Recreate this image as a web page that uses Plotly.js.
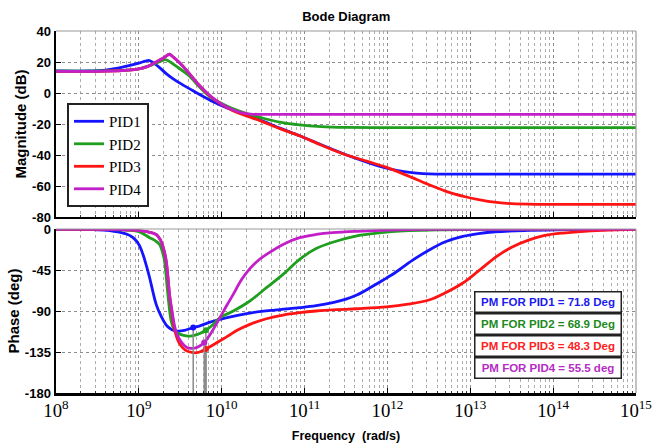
<!DOCTYPE html>
<html>
<head>
<meta charset="utf-8">
<script src="https://cdn.plot.ly/plotly-3.0.1.min.js"></script>
<style>html,body{margin:0;padding:0;background:#fff;}#plot{width:657px;height:446px;}</style>
</head>
<body>
<div id="plot"></div>
<script>
// ---- data (frequency given as log10 of rad/s) ----
const seriesNames = ["PID1", "PID2", "PID3", "PID4"];
const seriesColors = ["#1414ff", "#1f9e1f", "#ff1414", "#c21fc8"];

const magF1 = [8.0, 8.4, 8.6, 8.75, 8.88, 9.0, 9.08, 9.12, 9.17, 9.25, 9.33, 9.41, 9.5, 9.61, 9.75, 9.89, 10.05, 10.25, 10.49, 10.7, 10.94, 11.2, 11.46, 11.7, 11.9, 12.05, 12.2, 12.35, 12.5, 13.0, 15.0];
const magPID1 = [14.2, 14.2, 14.8, 16.0, 17.6, 19.3, 20.6, 21.1, 19.8, 16.4, 12.5, 9.3, 6.2, 2.8, -1.5, -5.5, -9.3, -13.3, -18.0, -22.6, -27.6, -33.4, -39.0, -43.7, -47.2, -49.3, -50.8, -51.7, -52.2, -52.4, -52.4];

const magF2 = [8.0, 8.5, 8.8, 9.0, 9.15, 9.25, 9.32, 9.38, 9.45, 9.61, 9.72, 9.85, 10.0, 10.13, 10.3, 10.5, 10.7, 10.94, 11.2, 11.5, 12.0, 15.0];
const magPID2 = [14.2, 14.2, 14.6, 15.6, 18.0, 20.2, 21.5, 20.0, 17.3, 11.0, 4.5, -2.0, -6.8, -10.0, -13.2, -16.3, -18.8, -20.6, -21.7, -22.2, -22.3, -22.3];

const magF3 = [8.0, 8.5, 8.8, 9.0, 9.1, 9.2, 9.3, 9.37, 9.42, 9.5, 9.61, 9.72, 9.85, 10.0, 10.13, 10.3, 10.46, 10.7, 10.94, 11.2, 11.46, 11.75, 11.99, 12.25, 12.47, 12.7, 12.95, 13.1, 13.27, 13.5, 13.8, 15.0];
const magPID3 = [14.0, 14.0, 14.4, 15.5, 17.0, 19.8, 22.7, 25.0, 23.0, 19.0, 12.5, 5.5, -1.5, -7.5, -11.2, -14.8, -17.8, -23.0, -27.6, -33.6, -39.2, -44.0, -48.0, -53.5, -58.5, -63.3, -67.1, -68.8, -70.3, -71.4, -71.8, -71.8];

const magF4 = [8.0, 8.5, 8.8, 9.0, 9.1, 9.2, 9.3, 9.37, 9.42, 9.5, 9.61, 9.72, 9.85, 10.0, 10.13, 10.25, 10.35, 10.45, 15.0];
const magPID4 = [14.0, 14.0, 14.4, 15.5, 17.0, 19.8, 22.7, 25.0, 23.0, 19.0, 12.5, 5.5, -1.3, -7.3, -10.8, -12.8, -13.6, -13.8, -13.8];

const phF1 = [8.0, 8.4, 8.7, 8.85, 8.93, 9.0, 9.05, 9.09, 9.13, 9.17, 9.21, 9.27, 9.34, 9.4, 9.46, 9.55, 9.656, 9.737, 9.85, 9.978, 10.15, 10.34, 10.64, 10.94, 11.14, 11.34, 11.5, 11.63, 11.8, 11.95, 12.1, 12.3, 12.51, 12.7, 12.91, 13.1, 13.3, 13.7, 14.2, 15.0];
const phPID1 = [0, -0.5, -2.5, -5.5, -9.5, -17, -28, -40, -53.5, -69, -83, -96, -106.5, -110.5, -112, -111.3, -108.2, -106.3, -102.5, -99.2, -95.5, -92.2, -89, -86.4, -84.2, -80.9, -77, -72.5, -64, -56, -47.5, -34.5, -22.7, -14, -8.1, -5, -3, -1.5, -0.6, 0];

const phF2 = [8.0, 8.8, 9.0, 9.13, 9.2, 9.25, 9.29, 9.31, 9.35, 9.39, 9.42, 9.46, 9.54, 9.62, 9.7, 9.809, 9.9, 9.978, 10.14, 10.34, 10.54, 10.74, 10.94, 11.14, 11.34, 11.63, 11.9, 12.2, 12.6, 13.2, 15.0];
const phPID2 = [0, -1, -3, -9.5, -13, -17, -27, -35, -71.7, -101, -109, -113.8, -116.8, -117.5, -116, -111.1, -104.5, -97.4, -90, -79, -64.4, -49.8, -33.3, -21.5, -14.5, -7.5, -4.2, -2, -1, -0.3, 0];

const phF3 = [8.0, 8.9, 9.1, 9.21, 9.26, 9.3, 9.33, 9.35, 9.37, 9.4, 9.43, 9.48, 9.53, 9.58, 9.64, 9.7, 9.76, 9.809, 9.9, 10.02, 10.1, 10.18, 10.34, 10.54, 10.74, 10.94, 11.14, 11.4, 11.63, 11.99, 12.25, 12.51, 12.7, 12.91, 13.1, 13.32, 13.5, 13.72, 13.9, 14.12, 14.6, 15.0];
const phPID3 = [0, -1, -3, -6, -12, -22, -35, -52, -71.7, -92, -110, -124, -130.5, -134, -135.5, -135.8, -134, -131.7, -127, -120.5, -116, -111.5, -104.7, -98.5, -94.4, -91.8, -90, -88.5, -87.5, -85.5, -82.5, -77.6, -70, -59.3, -46, -30, -20, -11.7, -7, -4.4, -1.5, -0.5];

const phF4 = [8.0, 8.9, 9.1, 9.21, 9.26, 9.3, 9.33, 9.35, 9.37, 9.4, 9.43, 9.46, 9.52, 9.58, 9.64, 9.7, 9.789, 9.858, 9.978, 10.06, 10.139, 10.24, 10.34, 10.44, 10.54, 10.74, 10.94, 11.14, 11.34, 11.63, 12.0, 12.5, 15.0];
const phPID4 = [0, -1, -3, -6, -12, -22, -35, -52, -71.7, -90, -106, -115.6, -125, -130, -131, -130, -124.5, -116, -97.4, -84, -71.7, -55.5, -43.5, -34.5, -27.9, -16.9, -9.5, -6, -4, -2.5, -1.3, -0.4, 0];

// phase margin crossover points
const pmFreq = [9.656, 9.809, 9.809, 9.789];
const pmValues = [71.8, 68.9, 48.3, 55.5];
const pmLabels = ["PM FOR PID1 = 71.8 Deg", "PM FOR PID2 = 68.9 Deg", "PM FOR PID3 = 48.3 Deg", "PM FOR PID4 = 55.5 deg"];
const pmTextColors = ["#1a1aee", "#1c8a1c", "#ff2020", "#b52cc4"];

const magTickVals = [40, 20, 0, -20, -40, -60, -80];
const phTickVals = [0, -45, -90, -135, -180];

// ---- build ----
const toHz = a => a.map(v => Math.pow(10, v));
const magF = [magF1, magF2, magF3, magF4];
const magV = [magPID1, magPID2, magPID3, magPID4];
const phF = [phF1, phF2, phF3, phF4];
const phV = [phPID1, phPID2, phPID3, phPID4];

const traces = [];
for (let i = 0; i < 4; i++) {
  traces.push({
    x: toHz(magF[i]), y: magV[i], xaxis: 'x', yaxis: 'y', type: 'scatter', mode: 'lines',
    name: seriesNames[i], line: {color: seriesColors[i], width: 2.8, shape: 'spline', smoothing: 0.8}
  });
}
for (let i = 0; i < 4; i++) {
  traces.push({
    x: toHz(phF[i]), y: phV[i], xaxis: 'x2', yaxis: 'y2', type: 'scatter', mode: 'lines',
    showlegend: false, line: {color: seriesColors[i], width: 2.8, shape: 'spline', smoothing: 1.0}
  });
}
for (let i = 0; i < 4; i++) {
  const ph = pmValues[i] - 180;
  traces.push({
    x: toHz([pmFreq[i], pmFreq[i]]), y: [ph, -180], xaxis: 'x2', yaxis: 'y2', type: 'scatter', mode: 'lines',
    showlegend: false, line: {color: '#8a8a8a', width: 1.5}
  });
  traces.push({
    x: toHz([pmFreq[i]]), y: [ph], xaxis: 'x2', yaxis: 'y2', type: 'scatter', mode: 'markers',
    showlegend: false, marker: {color: seriesColors[i], size: 6}
  });
}

const sans = 'Liberation Sans, Arial, sans-serif';
const serif = 'Liberation Serif, Times New Roman, serif';

const xCommon = {
  type: 'log', range: [8, 15], dtick: 1, exponentformat: 'power',
  showgrid: true, gridcolor: '#8c8c8c', griddash: 'dot', gridwidth: 1,
  minor: {showgrid: true, gridcolor: '#adadad', griddash: 'dot', gridwidth: 1, ticks: 'inside', ticklen: 2, tickcolor: '#333'},
  ticks: 'inside', ticklen: 5, tickcolor: '#000',
  showline: true, linecolor: '#000', linewidth: 2.5, zeroline: false, fixedrange: true
};

const annotations = pmLabels.map((t, i) => ({
  text: '<b>' + t + '</b>', xref: 'paper', yref: 'paper',
  x: 0.849, y: 0.2514 - i * 0.0608, xanchor: 'center', yanchor: 'middle',
  showarrow: false, font: {family: sans, size: 11.5, color: pmTextColors[i]},
  bgcolor: '#fff', bordercolor: '#222', borderwidth: 1.5, borderpad: 0, width: 145, height: 19
}));

const layout = {
  width: 657, height: 446,
  margin: {l: 56, r: 21, t: 31, b: 53},
  paper_bgcolor: '#fff', plot_bgcolor: '#fff',
  showlegend: true,
  title: {text: '<b>Bode Diagram</b>', font: {family: sans, size: 13, color: '#000'}, x: 0.527, xanchor: 'center', y: 0.964, yanchor: 'middle'},
  xaxis: Object.assign({}, xCommon, {anchor: 'y', showticklabels: false}),
  xaxis2: Object.assign({}, xCommon, {anchor: 'y2', showticklabels: true,
    tickfont: {family: serif, size: 15, color: '#000'},
    title: {text: '<b>Frequency  (rad/s)</b>', font: {family: sans, size: 12.5, color: '#000'}, standoff: 11}}),
  yaxis: {
    domain: [0.4862, 1], anchor: 'x', range: [-80, 40], tickvals: magTickVals,
    ticktext: magTickVals.map(v => '<b>' + v + '</b>'),
    tickfont: {family: sans, size: 13, color: '#000'},
    showgrid: true, gridcolor: '#8c8c8c', griddash: 'dot', ticks: 'inside', ticklen: 5, tickcolor: '#000',
    showline: true, linecolor: '#000', linewidth: 2.5, zeroline: false, fixedrange: true,
    title: {text: '<b>Magnitude (dB)</b>', font: {family: sans, size: 15, color: '#000'}, standoff: 2}
  },
  yaxis2: {
    domain: [0, 0.4530], anchor: 'x2', range: [-180, 0], tickvals: phTickVals,
    ticktext: phTickVals.map(v => '<b>' + v + '</b>'),
    tickfont: {family: sans, size: 13, color: '#000'},
    showgrid: true, gridcolor: '#8c8c8c', griddash: 'dot', ticks: 'inside', ticklen: 5, tickcolor: '#000',
    showline: true, linecolor: '#000', linewidth: 2.5, zeroline: false, fixedrange: true,
    title: {text: '<b>Phase (deg)</b>', font: {family: sans, size: 15, color: '#000'}, standoff: 2}
  },
  legend: {
    x: 0.019, y: 0.801, xanchor: 'left', yanchor: 'top', xref: 'paper', yref: 'paper',
    bgcolor: '#fff', bordercolor: '#222', borderwidth: 2,
    font: {family: serif, size: 15, color: '#000'}, itemwidth: 30, tracegroupgap: 0
  },
  shapes: [
    {type: 'line', xref: 'paper', yref: 'paper', x0: 0, x1: 1, y0: 1, y1: 1, line: {color: '#9a9a9a', width: 1.2}},
    {type: 'line', xref: 'paper', yref: 'paper', x0: 1, x1: 1, y0: 0.4862, y1: 1, line: {color: '#9a9a9a', width: 1.2}},
    {type: 'line', xref: 'paper', yref: 'paper', x0: 0, x1: 1, y0: 0.4530, y1: 0.4530, line: {color: '#9a9a9a', width: 1.2}},
    {type: 'line', xref: 'paper', yref: 'paper', x0: 1, x1: 1, y0: 0, y1: 0.4530, line: {color: '#9a9a9a', width: 1.2}}
  ],
  annotations: annotations
};

Plotly.newPlot('plot', traces, layout, {displayModeBar: false, staticPlot: true});
</script>
</body>
</html>
